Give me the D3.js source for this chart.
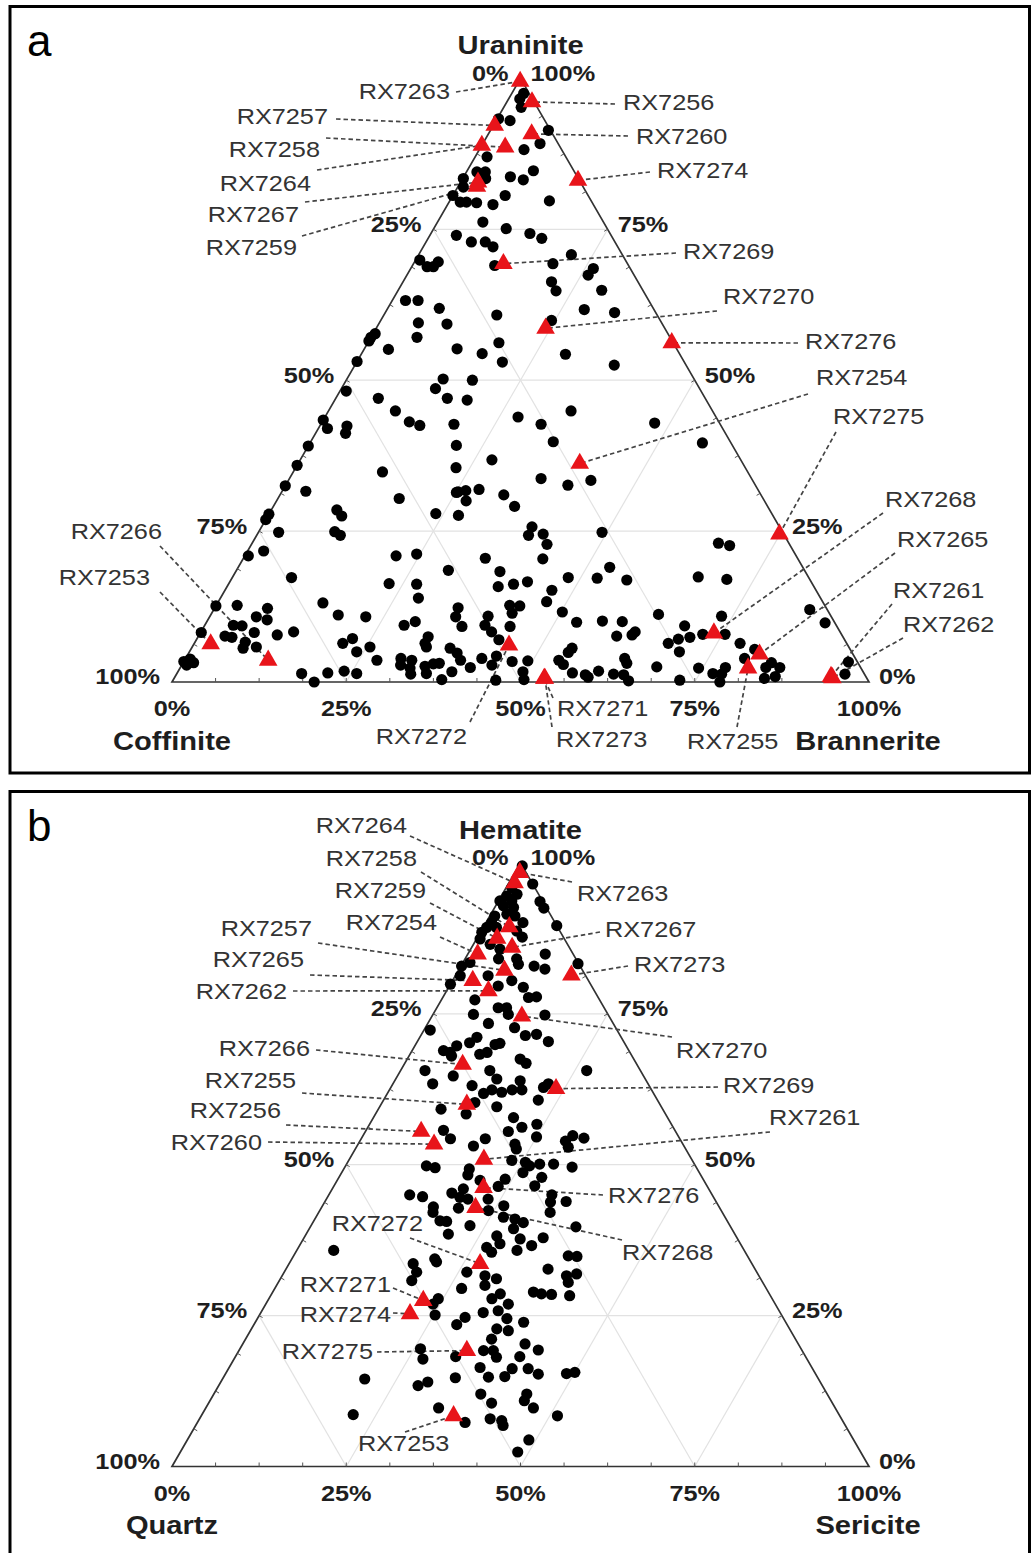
<!DOCTYPE html>
<html>
<head>
<meta charset="utf-8">
<script src="https://cdn.jsdelivr.net/npm/d3@7"></script>
<style>
  body { margin: 0; background: #fff; }
  svg { display: block; }
  text { font-family: "Liberation Sans", Arial, Helvetica, sans-serif; }
</style>
</head>
<body>
<svg id="chart" width="1031" height="1553"></svg>
<script>
// ---------------------------------------------------------------
// Panel a: ore minerals, [Uraninite, Coffinite, Brannerite] in %
// ---------------------------------------------------------------
const mineralsA = ["Uraninite", "Coffinite", "Brannerite"];
const dotsA = [
  [97.5,0.8,1.7],[96.6,1.8,1.6],[95.2,2.3,2.5],[93.3,6.5,0.2],[93.0,5.0,2.0],[91.4,0.3,8.3],
  [89.2,2.6,8.2],[87.0,11.3,1.7],[88.2,5.4,6.4],[84.5,14.0,1.5],[84.5,12.8,2.7],[83.4,13.3,3.3],
  [83.4,16.5,0.1],[82.0,17.2,0.8],[83.7,9.6,6.7],[83.2,8.0,8.8],[84.7,5.8,9.5],[80.6,19.4,0.0],
  [79.5,18.9,1.6],[79.5,18.0,2.5],[79.4,16.6,4.0],[79.1,14.4,6.5],[80.6,11.9,7.5],[79.7,6.0,14.3],
  [76.2,17.3,6.5],[75.1,14.5,10.4],[74.3,11.5,14.2],[73.5,10.2,16.3],[74.0,22.2,3.8],[72.9,20.6,6.5],
  [72.9,18.6,8.5],[72.1,17.9,10.0],[69.9,29.5,0.6],[68.8,29.0,2.2],[68.8,28.1,3.1],[69.6,27.0,3.4],
  [69.0,19.2,11.8],[70.8,7.3,21.9],[69.3,10.7,20.0],[68.5,5.3,26.2],[67.4,6.6,26.0],[66.3,12.4,21.3],
  [64.9,5.9,29.2],[63.2,34.9,1.9],[63.2,33.1,3.7],[61.9,30.7,7.4],[60.8,23.0,16.2],[59.5,34.9,5.6],
  [59.3,30.9,9.8],[57.7,42.0,0.3],[57.1,42.9,0.0],[56.5,43.5,0.0],[57.1,36.3,6.6],[55.1,41.4,3.5],
  [55.2,31.5,13.3],[54.4,28.3,17.3],[56.2,25.0,18.8],[53.0,26.1,20.9],[53.1,46.9,0.0],[50.2,36.0,13.8],
  [50.0,31.9,18.1],[48.6,37.9,13.5],[48.2,50.9,0.9],[47.0,37.0,16.0],[46.7,34.3,19.0],[47.0,46.9,6.1],
  [44.9,45.5,9.6],[43.1,44.4,12.5],[42.5,43.2,14.3],[42.7,38.2,19.1],[43.9,28.4,27.7],[43.4,56.6,0.0],
  [42.0,56.7,1.3],[42.4,53.7,3.9],[41.2,54.5,4.3],[39.1,60.9,0.0],[39.2,39.6,21.2],[35.9,64.1,0.0],
  [35.5,41.5,23.0],[36.8,35.7,27.5],[34.8,52.4,12.8],[32.5,67.5,0.0],[31.6,65.0,3.4],[30.4,52.2,17.4],
  [31.4,43.5,25.1],[31.7,42.0,26.3],[31.9,40.0,28.1],[31.0,36.9,32.1],[64.8,12.5,22.7],[61.7,10.0,28.3],
  [61.2,5.9,32.9],[59.9,15.6,24.5],[54.3,16.4,29.3],[52.5,10.3,37.2],[44.9,20.3,34.8],[42.7,25.7,31.6],
  [42.9,9.3,47.8],[39.8,25.4,34.8],[39.6,4.1,56.3],[33.7,30.2,36.1],[32.6,26.9,40.5],[33.4,23.2,43.4],
  [28.5,62.1,9.4],[27.5,61.9,10.6],[27.8,72.2,0.0],[26.9,73.1,0.0],[24.8,72.3,2.9],[24.9,64.2,10.9],
  [24.3,63.7,12.0],[21.7,76.0,2.3],[20.9,78.6,0.5],[20.9,57.4,21.7],[21.2,54.3,24.5],[17.3,74.2,8.5],
  [16.3,60.7,23.0],[16.2,56.8,27.0],[13.1,71.8,15.1],[11.1,70.6,18.3],[10.8,66.8,22.4],[9.4,62.0,28.6],
  [10.0,60.1,29.9],[13.9,57.7,28.4],[12.6,87.4,0.0],[12.7,84.3,3.0],[12.2,80.2,7.6],[10.8,82.5,6.7],
  [10.3,81.2,8.5],[9.4,86.5,4.1],[9.3,85.3,5.4],[8.2,91.7,0.1],[8.2,84.1,7.7],[8.3,78.4,13.3],
  [7.8,81.0,11.2],[7.6,88.6,3.8],[7.4,87.7,4.9],[6.6,86.2,7.2],[5.6,87.0,7.4],[5.8,85.0,9.2],
  [6.4,72.3,21.3],[7.2,70.5,22.3],[5.0,71.0,24.0],[5.8,68.7,25.5],[3.6,68.8,27.6],[3.9,65.2,30.9],
  [3.6,63.8,32.6],[2.8,65.8,31.4],[2.3,64.7,33.0],[1.3,65.1,33.6],[3.4,96.6,0.0],[3.8,95.5,0.7],
  [3.2,95.3,1.5],[2.8,96.5,0.7],[1.4,80.7,17.9],[0.0,79.6,20.4],[1.5,76.9,21.6],[1.8,74.4,23.8],
  [1.4,72.8,25.8],[31.5,43.2,25.3],[30.0,42.8,27.2],[29.1,36.3,34.6],[27.9,48.2,23.9],[27.6,45.1,27.3],
  [25.7,35.5,38.8],[24.3,36.7,39.0],[24.5,34.5,41.0],[22.8,34.8,42.4],[24.8,25.9,49.3],[20.5,44.8,34.7],
  [20.4,36.6,43.0],[18.5,51.1,30.4],[18.3,43.8,37.9],[19.0,27.7,53.3],[17.3,34.5,48.2],[17.2,30.4,52.4],
  [16.9,26.3,56.8],[15.8,45.3,38.9],[16.2,42.9,40.9],[16.6,40.7,42.7],[15.2,37.9,46.9],[13.3,39.6,47.1],
  [12.7,45.2,42.1],[12.6,43.8,43.6],[11.4,45.5,43.1],[12.3,52.8,34.9],[10.8,53.9,35.3],[11.6,38.2,50.2],
  [10.9,49.2,39.9],[9.4,50.4,40.2],[9.2,53.8,37.0],[9.9,37.0,53.1],[10.1,33.2,56.7],[10.0,30.4,59.6],
  [9.2,46.9,43.9],[8.3,50.0,41.7],[7.0,49.6,43.4],[8.3,29.4,62.3],[7.6,32.4,60.0],[7.8,30.1,62.1],
  [7.5,59.5,33.0],[6.4,60.5,33.1],[5.8,60.6,33.6],[5.6,57.3,37.1],[4.8,56.7,38.5],[3.6,56.8,39.6],
  [5.6,39.8,54.6],[4.9,40.7,54.4],[3.9,53.6,42.5],[4.3,51.3,44.4],[3.6,42.7,53.7],[2.9,42.4,54.7],
  [3.9,33.1,63.0],[3.1,33.2,63.7],[3.4,49.5,47.1],[3.5,47.2,49.3],[2.6,62.4,35.0],[3.0,61.0,36.0],
  [3.1,60.1,36.8],[1.4,62.8,35.8],[0.4,61.1,38.5],[1.7,59.0,39.3],[2.4,56.0,41.6],[2.8,52.7,44.5],
  [0.3,53.4,46.3],[1.7,48.8,49.5],[0.4,49.3,50.3],[1.5,41.8,56.7],[1.2,40.1,58.7],[0.8,39.9,59.3],
  [1.8,37.9,60.3],[1.3,36.0,62.7],[1.2,34.6,64.2],[0.2,34.4,65.4],[2.5,29.2,68.3],[11.2,24.6,64.2],
  [23.0,10.1,66.9],[22.6,8.7,68.7],[17.4,15.8,66.8],[17.0,11.9,71.1],[10.9,15.7,73.4],[9.3,21.8,68.9],
  [7.9,19.9,72.2],[7.9,16.7,75.4],[7.4,22.0,70.6],[7.1,23.8,69.1],[6.4,25.6,68.0],[5.0,24.7,70.3],
  [6.4,15.3,78.3],[5.4,13.7,80.9],[3.9,15.9,80.2],[3.2,12.4,84.4],[2.4,11.6,86.0],[2.4,13.6,84.0],
  [0.6,14.7,84.7],[0.9,13.0,86.1],[2.3,23.3,74.4],[0.3,27.0,72.7],[1.4,21.7,76.9],[1.3,20.5,78.2],
  [2.4,19.4,78.2],[0.0,21.4,78.6],[12.0,2.5,85.5],[9.8,1.4,88.8],[3.3,1.3,95.4],[1.3,2.8,95.9]
];
// Labelled samples: [id, Uraninite, Coffinite, Brannerite]
const samplesA = [
  ["RX7263",99.5,0.3,0.2],["RX7256",96.1,0.3,3.6],["RX7257",92.2,7.6,0.2],["RX7258",88.6,7.9,3.5],
  ["RX7264",88.9,11.1,0.0],["RX7267",82.8,14.7,2.5],["RX7259",82.1,15.2,2.7],["RX7260",90.8,3.0,6.2],
  ["RX7274",83.1,0.2,16.7],["RX7269",69.3,17.8,12.9],["RX7270",58.6,17.1,24.3],["RX7276",56.2,0.2,43.6],
  ["RX7254",36.2,23.4,40.4],["RX7275",24.5,0.6,74.9],["RX7268",8.1,18.2,73.7],["RX7265",4.6,13.4,82.0],
  ["RX7255",2.3,16.2,81.5],["RX7261",0.9,5.0,94.1],["RX7262",0.7,4.9,94.4],["RX7272",6.1,48.6,45.3],
  ["RX7271",0.6,46.3,53.1],["RX7273",0.6,46.2,53.2],["RX7266",3.6,84.4,12.0],["RX7253",6.3,91.3,2.4]
];

// ---------------------------------------------------------------
// Panel b: gangue minerals, [Hematite, Quartz, Sericite] in %
// ---------------------------------------------------------------
const mineralsB = ["Hematite", "Quartz", "Sericite"];
const dotsB = [
  [99.5,0.0,0.5],[96.5,0.0,3.5],[93.6,0.4,6.0],[92.5,0.4,7.1],[89.6,0.0,10.4],[83.3,0.1,16.6],
  [95.9,3.3,0.8],[94.8,3.1,2.1],[94.5,4.7,0.8],[93.7,6.1,0.2],[93.7,4.4,1.9],[92.9,6.0,1.1],
  [92.6,4.7,2.7],[91.2,8.1,0.7],[91.5,6.2,2.3],[91.2,5.2,3.6],[90.1,4.6,5.3],[90.1,9.1,0.8],
  [89.3,10.2,0.5],[88.5,11.3,0.2],[87.4,12.1,0.5],[89.3,8.8,1.9],[88.7,6.2,5.1],[87.7,5.9,6.4],
  [86.5,11.1,2.4],[85.7,10.1,4.2],[84.1,11.1,4.8],[84.1,8.5,7.4],[83.2,8.7,8.1],[84.9,4.0,11.1],
  [82.9,6.6,10.5],[82.4,5.3,12.3],[83.5,15.5,1.0],[82.9,17.0,0.1],[81.3,18.0,0.7],[79.9,20.1,0.0],
  [81.3,14.0,4.7],[80.5,11.0,8.5],[79.6,13.4,7.0],[79.4,9.9,10.7],[77.3,17.9,4.8],[77.7,10.0,12.3],
  [77.8,8.8,13.4],[76.0,15.2,8.8],[76.0,14.0,10.0],[74.9,14.3,10.8],[74.9,19.3,5.8],[74.8,9.1,16.1],
  [73.4,17.9,8.7],[72.7,14.5,12.8],[72.3,26.8,0.9],[71.6,11.9,16.5],[71.4,13.6,15.0],[70.4,10.8,18.8],
  [71.1,20.7,8.2],[70.2,22.2,7.6],[70.1,17.9,12.0],[69.9,18.7,11.4],[69.7,24.3,6.0],[68.9,26.6,4.5],
  [68.6,25.8,5.6],[68.3,21.7,10.0],[68.6,20.5,10.9],[67.5,16.3,16.2],[68.0,25.9,6.1],[66.8,15.8,17.4],
  [65.6,30.9,3.5],[64.7,27.3,8.0],[65.6,21.6,12.8],[64.2,21.3,14.5],[65.6,7.7,26.7],[63.4,30.9,5.7],
  [63.1,25.4,11.5],[63.9,18.1,18.0],[61.8,24.4,13.8],[62.4,22.9,14.7],[62.0,21.7,16.3],[62.4,20.0,17.6],
  [62.4,18.6,19.0],[62.8,15.3,21.9],[63.4,14.3,22.3],[60.7,17.1,22.2],[60.3,26.4,13.3],[59.6,23.6,16.8],
  [59.2,31.8,9.0],[58.4,28.6,13.0],[57.8,22.1,20.1],[56.2,21.7,22.1],[56.7,19.3,24.0],[55.5,24.0,20.5],
  [54.6,20.4,25.0],[55.7,33.2,11.1],[54.3,32.9,12.8],[54.3,27.9,17.8],[53.1,30.2,16.7],[53.4,24.1,22.5],
  [52.6,24.3,23.1],[53.9,16.6,29.5],[54.8,15.1,30.1],[54.4,13.7,31.9],[52.9,16.7,30.4],[49.8,38.6,11.6],
  [49.5,37.5,13.0],[49.3,32.7,18.0],[48.3,33.4,18.3],[47.4,32.1,20.5],[47.6,28.4,24.0],[50.7,25.9,23.4],
  [50.4,24.1,25.5],[49.8,23.8,26.4],[48.7,25.3,26.0],[50.1,22.2,27.7],[50.1,20.2,29.7],[49.6,17.8,32.6],
  [47.9,23.0,29.1],[46.5,24.7,28.8],[46.4,30.0,23.6],[45.0,43.4,11.6],[44.7,41.7,13.6],[45.3,37.2,17.5],
  [46.0,35.2,18.8],[44.6,36.4,19.0],[44.3,35.4,20.3],[44.3,32.5,23.2],[45.0,23.0,32.0],[43.8,23.8,32.4],
  [43.9,21.5,34.6],[43.0,41.0,16.0],[42.1,41.5,16.4],[42.8,37.5,19.7],[42.4,33.4,24.2],[43.2,30.8,26.0],
  [42.1,24.7,33.2],[41.3,31.8,26.9],[41.0,30.3,28.7],[40.4,29.4,30.2],[39.4,31.3,29.3],[40.7,41.2,18.1],
  [40.6,40.3,19.1],[39.9,37.3,22.8],[38.5,41.1,20.4],[37.7,31.2,31.1],[37.9,27.8,34.3],[39.7,22.2,38.1],
  [38.2,34.3,27.5],[36.9,34.5,28.6],[36.3,36.7,27.0],[35.5,36.4,28.1],[35.8,32.6,31.6],[36.6,30.1,33.3],
  [34.4,45.1,20.5],[34.9,25.7,39.4],[34.8,24.5,40.7],[35.8,58.9,5.3],[33.6,48.6,17.8],[32.2,48.8,19.0],
  [33.9,45.1,21.0],[30.8,50.2,19.0],[32.2,41.6,26.2],[31.6,39.3,29.1],[31.1,37.9,31.0],[30.0,40.1,29.9],
  [29.5,43.7,26.8],[28.6,38.6,32.8],[26.9,38.3,34.8],[27.8,40.2,32.0],[25.8,40.3,33.9],[25.5,42.6,31.9],
  [28.9,33.7,37.4],[28.6,32.7,38.7],[28.5,31.3,40.2],[28.3,28.8,42.9],[31.6,27.6,40.8],[30.5,27.9,41.6],
  [31.9,26.0,42.1],[32.7,29.7,37.6],[27.8,47.9,24.3],[26.9,49.1,24.0],[25.1,49.7,25.2],[24.7,45.6,29.7],
  [23.5,47.4,29.1],[24.5,39.7,35.8],[22.5,40.5,37.0],[22.8,42.0,35.2],[23.9,37.6,38.5],[21.1,43.6,35.3],
  [19.2,45.7,35.1],[19.2,44.3,36.5],[18.1,44.4,37.5],[20.3,39.2,40.5],[18.2,41.0,40.8],[19.3,37.8,42.9],
  [19.5,54.6,25.9],[17.8,55.1,27.1],[18.2,50.2,31.6],[16.4,47.6,36.0],[14.8,47.2,38.0],[14.9,44.8,40.3],
  [16.2,43.1,40.7],[16.2,40.8,43.0],[15.3,39.8,44.9],[15.4,35.7,48.9],[15.6,34.4,50.0],[14.5,65.1,20.4],
  [14.7,52.0,33.3],[13.4,58.0,28.6],[14.0,56.3,29.7],[12.0,49.7,38.3],[10.5,48.9,40.6],[12.0,43.1,44.9],
  [10.9,44.0,45.1],[9.7,43.3,47.0],[9.7,56.9,33.4],[8.6,69.7,21.7],[7.9,50.4,41.7],[7.6,48.9,43.5],
  [6.8,49.1,44.1],[7.3,54.3,38.4],[8.4,40.5,51.1],[4.4,46.6,49.0],[2.4,49.2,48.4]
];
// Labelled samples: [id, Hematite, Quartz, Sericite]
const samplesB = [
  ["RX7263",98.4,0.9,0.7],["RX7264",96.7,2.5,0.8],["RX7258",89.4,6.9,3.7],["RX7259",87.5,9.6,2.9],
  ["RX7267",86.0,8.2,5.8],["RX7254",84.9,13.7,1.4],["RX7257",82.2,11.2,6.6],["RX7273",81.4,2.0,16.6],
  ["RX7265",80.5,16.6,2.9],["RX7262",78.8,15.2,6.0],["RX7270",74.6,12.5,12.9],["RX7266",66.6,25.0,8.4],
  ["RX7269",62.6,13.6,23.8],["RX7255",60.0,27.7,12.3],["RX7256",55.5,36.5,8.0],["RX7260",53.4,35.7,10.9],
  ["RX7261",50.9,29.8,19.3],["RX7276",46.2,32.2,21.6],["RX7268",42.9,35.0,22.1],["RX7272",33.6,39.0,27.4],
  ["RX7271",27.5,50.2,22.3],["RX7274",25.3,53.2,21.5],["RX7275",19.2,48.1,32.7],["RX7253",8.4,55.4,36.2]
];

// Axis tick values (percent)
const gridValues = [25, 50, 75];
const tickLabelValues = [0, 25, 50, 75, 100];

// ---------------------------------------------------------------
// Layout: sample label placement [textX, textY, anchor, leaderX, leaderY]
// ---------------------------------------------------------------
const labelLayoutA = {
  RX7263: [450, 92, "end", 456, 92],   RX7256: [623, 103, "start", 615, 104],
  RX7257: [328, 117, "end", 336, 119], RX7258: [320, 150, "end", 326, 138],
  RX7264: [311, 184, "end", 317, 170], RX7267: [299, 215, "end", 305, 202],
  RX7259: [297, 248, "end", 302, 236], RX7260: [636, 137, "start", 628, 136],
  RX7274: [657, 171, "start", 650, 172], RX7269: [683, 252, "start", 676, 253],
  RX7270: [723, 297, "start", 717, 311], RX7276: [805, 342, "start", 798, 343],
  RX7254: [816, 378, "start", 808, 394], RX7275: [833, 417, "start", 836, 432],
  RX7268: [885, 500, "start", 883, 513], RX7265: [897, 540, "start", 895, 553],
  RX7261: [893, 591, "start", 892, 604], RX7262: [903, 625, "start", 903, 638],
  RX7266: [162, 532, "end", 160, 546],  RX7253: [150, 578, "end", 160, 592],
  RX7272: [467, 737, "end", 470, 722],  RX7271: [557, 709, "start", 553, 698],
  RX7273: [556, 740, "start", 552, 727], RX7255: [687, 742, "start", 737, 727]
};
const labelLayoutB = {
  RX7264: [407, 826, "end", 410, 836], RX7258: [417, 859, "end", 421, 872],
  RX7259: [426, 891, "end", 430, 903], RX7254: [437, 923, "end", 440, 937],
  RX7257: [312, 929, "end", 318, 943], RX7265: [304, 960, "end", 310, 975],
  RX7262: [287, 992, "end", 293, 991], RX7263: [577, 894, "start", 572, 882],
  RX7267: [605, 930, "start", 600, 932], RX7273: [634, 965, "start", 628, 966],
  RX7270: [676, 1051, "start", 672, 1037], RX7269: [723, 1086, "start", 718, 1087],
  RX7261: [769, 1118, "start", 770, 1132], RX7276: [608, 1196, "start", 603, 1195],
  RX7268: [622, 1253, "start", 622, 1240], RX7266: [310, 1049, "end", 316, 1050],
  RX7255: [296, 1081, "end", 302, 1093], RX7256: [281, 1111, "end", 286, 1125],
  RX7260: [262, 1143, "end", 268, 1142], RX7272: [423, 1224, "end", 410, 1238],
  RX7271: [391, 1285, "end", 393, 1288], RX7274: [391, 1315, "end", 393, 1313],
  RX7275: [373, 1352, "end", 377, 1352], RX7253: [358, 1444, "start", 405, 1432]
};

const panels = [
  { letter: "a", names: mineralsA, dots: dotsA, samples: samplesA, layout: labelLayoutA,
    base: 682, frameY: 6.5, frameH: 766.5, letterY: 56 },
  { letter: "b", names: mineralsB, dots: dotsB, samples: samplesB, layout: labelLayoutB,
    base: 1466.5, frameY: 791.5, frameH: 790, letterY: 841 }
];

const svg = d3.select("#chart");
const LEFT = 172, RIGHT = 869;
const SIDE = RIGHT - LEFT, HEIGHT = SIDE * Math.sqrt(3) / 2;
const STRETCH = 1.15;   // horizontal text stretch

function stretchedText(g, x, y, str, opts) {
  return g.append("text")
    .attr("transform", `translate(${x},${y}) scale(${opts.sx || STRETCH},1)`)
    .attr("text-anchor", opts.anchor || "middle")
    .attr("dominant-baseline", "central")
    .attr("font-size", opts.size)
    .attr("font-weight", opts.weight || "normal")
    .attr("fill", opts.fill || "#222")
    .text(str);
}

panels.forEach(p => {
  const g = svg.append("g");

  // frame
  g.append("rect")
    .attr("x", 10).attr("y", p.frameY)
    .attr("width", 1019.5).attr("height", p.frameH)
    .attr("fill", "none").attr("stroke", "#000").attr("stroke-width", 3);

  g.append("text")
    .attr("x", 27).attr("y", p.letterY)
    .attr("font-size", 44).attr("fill", "#000")
    .text(p.letter);

  // scales: horizontal position along the base, vertical by the apex component
  const x = d3.scaleLinear().domain([0, 100]).range([LEFT, RIGHT]);
  const y = d3.scaleLinear().domain([0, 100]).range([p.base, p.base - HEIGHT]);
  // top = apex mineral, right = right-corner mineral
  const proj = (top, right) => [x(right + top / 2), y(top)];
  const line = d3.line();

  // light grid lines parallel to each side
  const grid = g.append("g").attr("stroke", "#e2e2e2").attr("stroke-width", 1.2).attr("fill", "none");
  gridValues.forEach(v => {
    grid.append("path").attr("d", line([proj(v, 0), proj(v, 100 - v)]));
    grid.append("path").attr("d", line([proj(0, v), proj(100 - v, v)]));
    grid.append("path").attr("d", line([proj(0, 100 - v), proj(100 - v, 0)]));
  });

  // triangle outline
  g.append("path")
    .attr("d", line([proj(0, 0), proj(0, 100), proj(100, 0)]) + "Z")
    .attr("fill", "none").attr("stroke", "#333").attr("stroke-width", 1.7);

  // small inward ticks on the three sides
  const ticks = d3.range(6.25, 100, 6.25);
  const tk = g.append("g").attr("stroke", "#555").attr("stroke-width", 1);
  const L = 4;
  ticks.forEach(v => {
    const b = proj(0, v);
    tk.append("line").attr("x1", b[0]).attr("y1", b[1]).attr("x2", b[0]).attr("y2", b[1] - L);
    const l = proj(v, 0);
    tk.append("line").attr("x1", l[0]).attr("y1", l[1]).attr("x2", l[0] + L * 0.866).attr("y2", l[1] + L * 0.5);
    const r = proj(v, 100 - v);
    tk.append("line").attr("x1", r[0]).attr("y1", r[1]).attr("x2", r[0] - L * 0.866).attr("y2", r[1] + L * 0.5);
  });

  // percentage labels
  const tl = g.append("g");
  const tickOpts = { size: 22, weight: "bold", fill: "#1e1e1e" };
  tickLabelValues.forEach(v => {
    // bottom: right-corner mineral
    const b = proj(0, v);
    stretchedText(tl, b[0], b[1] + 27, v + "%", Object.assign({ anchor: "middle" }, tickOpts));
    // left side: left-corner mineral (100% at bottom-left)
    const l = proj(100 - v, 0);
    stretchedText(tl, l[0] - 12, l[1] - 5, v + "%", Object.assign({ anchor: "end" }, tickOpts));
    // right side: apex mineral (100% at the apex)
    const r = proj(v, 100 - v);
    stretchedText(tl, r[0] + 10, r[1] - 5, v + "%", Object.assign({ anchor: "start" }, tickOpts));
  });

  // corner titles
  const titleOpts = { size: 26, weight: "bold", fill: "#1e1e1e", sx: 1.12 };
  const apex = proj(100, 0), bl = proj(0, 0), br = proj(0, 100);
  stretchedText(tl, apex[0], apex[1] - 33, p.names[0], titleOpts);
  stretchedText(tl, bl[0], bl[1] + 59, p.names[1], titleOpts);
  stretchedText(tl, br[0] - 1, br[1] + 59, p.names[2], titleOpts);

  // leader lines
  const leaders = g.append("g")
    .attr("stroke", "#444").attr("stroke-width", 1.7)
    .attr("stroke-dasharray", "4.5 3").attr("fill", "none");
  p.samples.forEach(s => {
    const pos = p.layout[s[0]];
    const m = proj(s[1], s[3]);
    leaders.append("path").attr("d", line([[pos[3], pos[4]], m]));
  });

  // measured samples (black dots)
  g.append("g").selectAll("circle")
    .data(p.dots)
    .join("circle")
    .attr("cx", d => proj(d[0], d[2])[0])
    .attr("cy", d => proj(d[0], d[2])[1])
    .attr("r", 5.6)
    .attr("fill", "#000");

  // labelled samples (red triangles)
  const tri = d3.symbol(d3.symbolTriangle, 150);
  g.append("g").selectAll("path")
    .data(p.samples)
    .join("path")
    .attr("d", tri)
    .attr("transform", d => { const m = proj(d[1], d[3]); return `translate(${m[0]},${m[1]})`; })
    .attr("fill", "#e8141a");

  // sample names
  const lab = g.append("g");
  p.samples.forEach(s => {
    const pos = p.layout[s[0]];
    stretchedText(lab, pos[0], pos[1], s[0], { size: 22, anchor: pos[2], fill: "#333" });
  });
});
</script>
</body>
</html>
